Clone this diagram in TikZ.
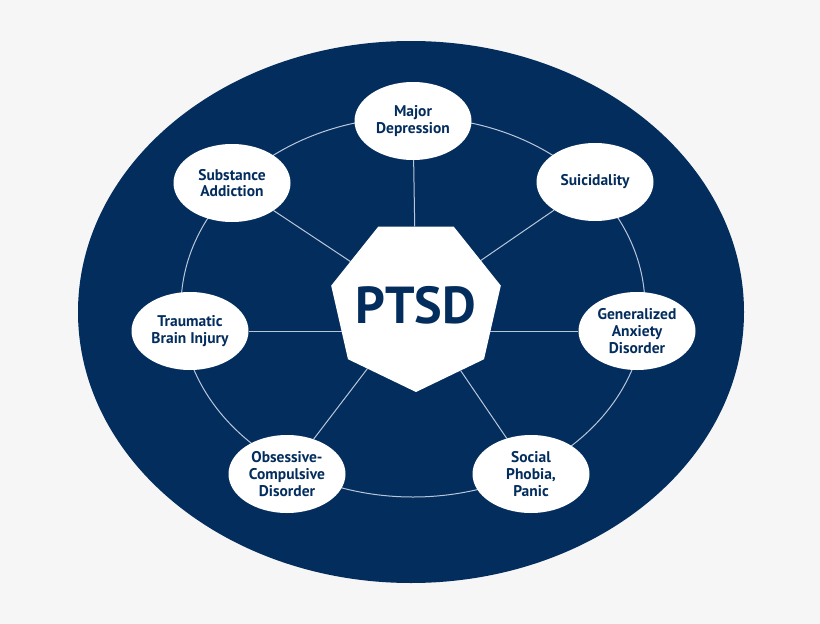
\documentclass[tikz,border=0pt]{standalone}
\usepackage{fontspec}
\setsansfont{PT Sans}
\usepackage{xcolor}
\usepackage{tikz}
\usetikzlibrary{calc}
\usetikzlibrary{shapes.geometric}
\usetikzlibrary{backgrounds}

\definecolor{navy}{RGB}{3,45,93}
\definecolor{spoke}{RGB}{185,198,218}
\definecolor{paper}{RGB}{246,246,246}

\begin{document}
\begin{tikzpicture}[x = 1pt, y = -1pt,
  disorder/.style = {shape = ellipse, fill = white, text = navy,
    inner sep = 0pt, minimum width = 117pt, minimum height = 78pt,
    align = center, font = \sffamily\bfseries\fontsize{15.5}{16.8}\selectfont},
  link/.style = {spoke, line width = 1pt}]

% centre
  \node[shape = regular polygon, regular polygon sides = 7,
    shape border rotate = 180, minimum size = 174pt, inner sep = -20pt,
    fill = white, text = navy,
    font = \sffamily\bfseries\fontsize{52}{56}\selectfont]
    (ptsd) at (416,305) {PTSD};

% disorders
  \node[disorder] (depression) at (413,121) {Major\\Depression};
  \node[disorder] (addiction) at (232,183) {Substance\\Addiction};
  \node[disorder] (suicidality) at (595,182) {Suicidality};
  \node[disorder] (tbi) at (190,331) {Traumatic\\Brain Injury};
  \node[disorder] (anxiety) at (637,331) {Generalized\\Anxiety\\Disorder};
  \node[disorder] (ocd) at (287,474) {Obsessive-\\Compulsive\\Disorder};
  \node[disorder] (phobia) at (531,474) {Social\\Phobia,\\Panic};

% disc, ring and spokes
  \begin{scope}[on background layer]
    \fill[paper] (0,0) rectangle (820,624);
    \fill[navy] (411,312) ellipse [x radius = 333pt, y radius = 271pt];
    \draw[link] (413,307) ellipse [x radius = 232pt, y radius = 190pt];
    \foreach \n in {depression, addiction, suicidality, ocd, phobia}
      \draw[link] (ptsd) -- (\n);
    \draw[link] (ptsd |- tbi) -- (tbi);
    \draw[link] (ptsd |- anxiety) -- (anxiety);
  \end{scope}

\end{tikzpicture}
\end{document}
